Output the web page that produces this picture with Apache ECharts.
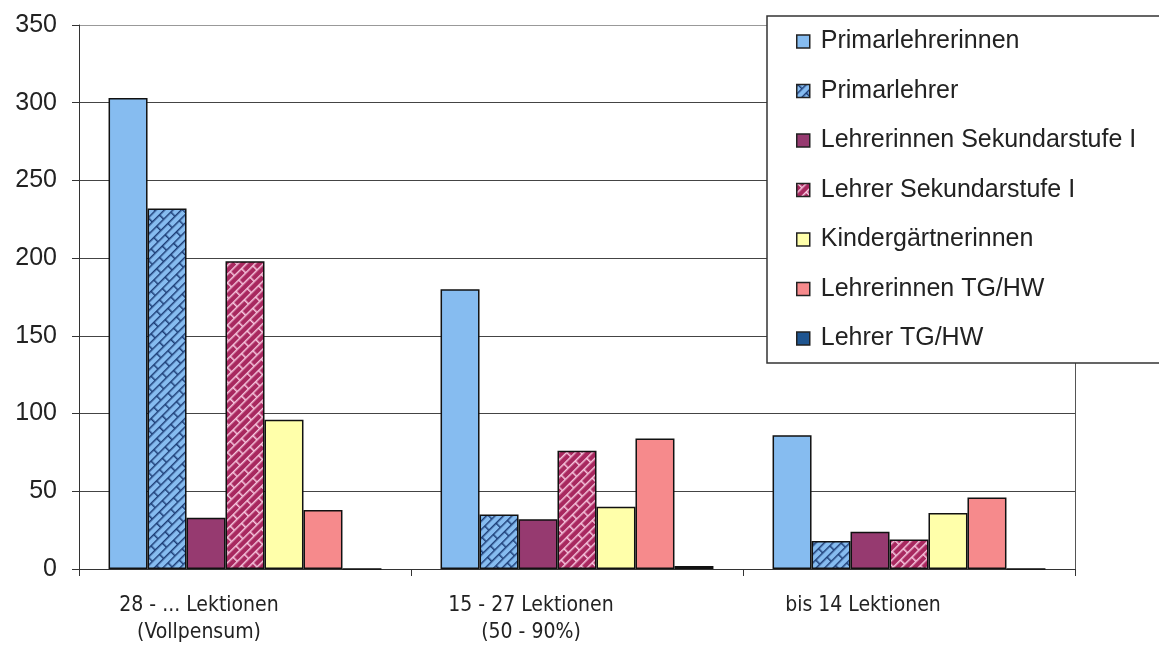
<!DOCTYPE html>
<html>
<head>
<meta charset="utf-8">
<script src="https://cdn.jsdelivr.net/npm/echarts@6/dist/echarts.min.js"></script>
<style>
  html, body { margin: 0; padding: 0; background: #fff; }
  #chart { width: 1159px; height: 646px; }
</style>
</head>
<body>
<div id="chart"></div>
<script>
// categories (x axis)
const categories = ['28 - ... Lektionen\n(Vollpensum)', '15 - 27 Lektionen\n(50 - 90%)', 'bis 14 Lektionen'];
// series names
const seriesNames = ['Primarlehrerinnen', 'Primarlehrer', 'Lehrerinnen Sekundarstufe I', 'Lehrer Sekundarstufe I', 'Kindergärtnerinnen', 'Lehrerinnen TG/HW', 'Lehrer TG/HW'];
// values per series
const primarlehrerinnen = [303, 180, 86];
const primarlehrer = [232, 35, 18];
const lehrerinnenSek = [33, 32, 24];
const lehrerSek = [198, 76, 19];
const kindergaertnerinnen = [96, 40, 36];
const lehrerinnenTG = [38, 84, 46];
const lehrerTG = [0, 2, 0];
const yTicks = { min: 0, max: 350, interval: 50 };

// brick hatch pattern (drawn once, rotated by the pattern)
function brick(base, line) {
  const c = document.createElement('canvas');
  c.width = 20; c.height = 12;
  const g = c.getContext('2d');
  g.fillStyle = base;
  g.fillRect(0, 0, 20, 12);
  g.strokeStyle = line;
  g.lineWidth = 1.5;
  g.beginPath();
  g.moveTo(0, 0.75); g.lineTo(20, 0.75);
  g.moveTo(0, 6.75); g.lineTo(20, 6.75);
  g.moveTo(0.75, 0); g.lineTo(0.75, 6);
  g.moveTo(10.75, 6); g.lineTo(10.75, 12);
  g.stroke();
  return { image: c, repeat: 'repeat', rotation: -Math.PI / 4 };
}

const colors = [
  '#86bcf0',
  brick('#86bcf0', '#1e3f78'),
  '#963a70',
  brick('#a8285f', '#f6c6de'),
  '#ffffaa',
  '#f68a8c',
  '#1f5590'
];
const seriesData = [primarlehrerinnen, primarlehrer, lehrerinnenSek, lehrerSek, kindergaertnerinnen, lehrerinnenTG, lehrerTG];

const chart = echarts.init(document.getElementById('chart'), null, { renderer: 'canvas' });
chart.setOption({
  animation: false,
  backgroundColor: '#fff',
  grid: { left: 79, right: 84, top: 25, bottom: 75 },
  legend: {
    orient: 'vertical',
    left: 767,
    top: 16,
    padding: [13, 40, 12, 29],
    itemGap: 24.5,
    itemWidth: 13,
    itemHeight: 13,
    backgroundColor: '#fff',
    borderColor: '#333',
    borderWidth: 1.5,
    borderRadius: 0,
    icon: 'rect',
    itemStyle: { borderColor: '#222', borderWidth: 1.5 },
    textStyle: { fontSize: 25, color: '#222', lineHeight: 25, padding: [0, 0, 0, 6], fontFamily: 'Liberation Sans, Arial, sans-serif' },
    data: seriesNames
  },
  xAxis: {
    type: 'category',
    data: categories,
    axisLine: { lineStyle: { color: '#333', width: 1 } },
    axisTick: { show: true, length: 7, lineStyle: { color: '#333' } },
    axisLabel: {
      color: '#222',
      fontSize: 21,
      lineHeight: 27,
      margin: 23,
      padding: [0, 92, 0, 0],
      fontFamily: "'Liberation Sans Narrow', 'DejaVu Sans Condensed', sans-serif"
    }
  },
  yAxis: [{
    type: 'value',
    min: yTicks.min,
    max: yTicks.max,
    interval: yTicks.interval,
    axisLine: { show: true, lineStyle: { color: '#333', width: 1 } },
    axisTick: { show: true, length: 7, lineStyle: { color: '#333' } },
    axisLabel: { color: '#222', fontSize: 25, margin: 22, fontFamily: 'Liberation Sans, Arial, sans-serif' },
    splitLine: { show: true, lineStyle: { color: ['#444', '#444', '#444', '#444', '#444', '#444', '#444', '#999'], width: 1 } }
  }, {
    type: 'value',
    position: 'right',
    min: yTicks.min,
    max: yTicks.max,
    interval: yTicks.interval,
    axisLine: { show: true, lineStyle: { color: '#555', width: 1 } },
    axisTick: { show: false },
    axisLabel: { show: false },
    splitLine: { show: false }
  }],
  series: seriesNames.map((name, i) => ({
    name: name,
    type: 'bar',
    data: seriesData[i],
    barGap: 0,
    barCategoryGap: '17.8%',
    itemStyle: { color: colors[i], borderColor: '#111', borderWidth: 1.5 }
  }))
});
</script>
</body>
</html>
